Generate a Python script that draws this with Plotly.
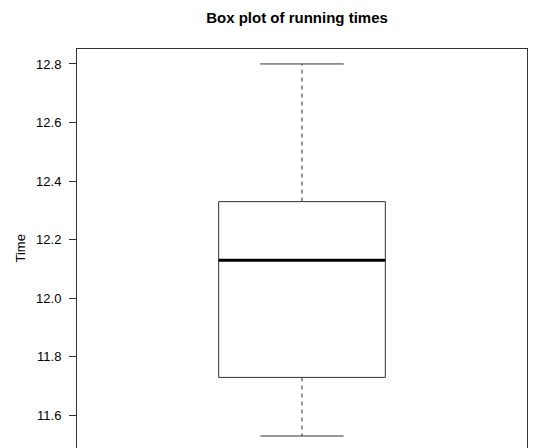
import plotly.graph_objects as go

# Summary statistics of running times
lower_whisker = 11.53
q1 = 11.73
median = 12.13
q3 = 12.33
upper_whisker = 12.80
position = 1.0
box_half = 0.2
cap_half = 0.1

tick_vals = [11.6, 11.8, 12.0, 12.2, 12.4, 12.6, 12.8]
tick_text = ["11.6", "11.8", "12.0", "12.2", "12.4", "12.6", "12.8"]

line_col = "#333333"

fig = go.Figure()

# box outline
fig.add_trace(go.Scatter(
    x=[position - box_half, position + box_half, position + box_half, position - box_half, position - box_half],
    y=[q1, q1, q3, q3, q1],
    mode="lines", line=dict(color=line_col, width=1), hoverinfo="skip"))
# median
fig.add_trace(go.Scatter(
    x=[position - box_half, position + box_half], y=[median, median],
    mode="lines", line=dict(color="black", width=3), hoverinfo="skip"))
# whiskers (dashed)
fig.add_trace(go.Scatter(
    x=[position, position, None, position, position],
    y=[q3, upper_whisker, None, q1, lower_whisker],
    mode="lines", line=dict(color=line_col, width=1, dash="4px,4px"), hoverinfo="skip"))
# caps
fig.add_trace(go.Scatter(
    x=[position - cap_half, position + cap_half, None, position - cap_half, position + cap_half],
    y=[upper_whisker, upper_whisker, None, lower_whisker, lower_whisker],
    mode="lines", line=dict(color=line_col, width=1), hoverinfo="skip"))

fig.update_layout(
    width=533, height=448,
    margin=dict(l=77, r=6, t=49, b=0),
    paper_bgcolor="white", plot_bgcolor="white",
    showlegend=False,
    font=dict(family="Liberation Sans, Arial, sans-serif", size=13, color="black"),
    title=dict(text="<b>Box plot of running times</b>", x=297 / 533, xref="container",
               xanchor="center", y=1 - 18 / 448, yref="container", yanchor="middle",
               font=dict(size=15, color="black")),
    xaxis=dict(range=[0.46, 1.54], side="top", showline=True, linecolor=line_col, linewidth=1,
               showgrid=False, zeroline=False, showticklabels=False, ticks=""),
    yaxis=dict(range=[11.489, 12.851], showline=True, mirror=True, linecolor=line_col, linewidth=1,
               showgrid=False, zeroline=False, ticks="outside", ticklen=7, tickcolor=line_col,
               tickvals=tick_vals, ticktext=tick_text, tickfont=dict(size=13),
               ticklabelstandoff=5),
    annotations=[dict(text="Time", xref="paper", yref="paper", x=0, y=0.5,
                      xanchor="center", yanchor="middle", xshift=-57, textangle=-90,
                      showarrow=False, font=dict(size=13))],
)

fig.write_html("out.html", config={"displayModeBar": False},
               post_script="document.body.style.margin='0px';document.body.style.overflow='hidden';")
